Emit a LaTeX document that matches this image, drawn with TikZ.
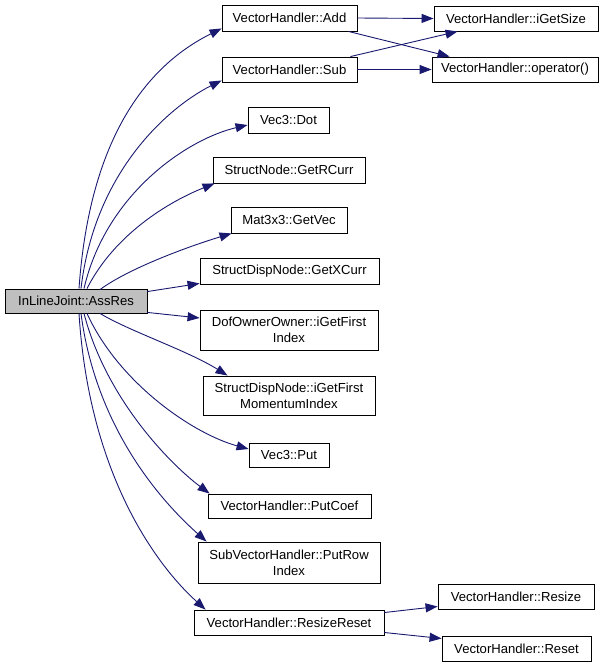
\documentclass[tikz,border=0pt]{standalone}
\usepackage{fontspec}
\setmainfont{Liberation Sans}
\usetikzlibrary{arrows.meta,calc}
\definecolor{edgec}{HTML}{191970}
\definecolor{rootfill}{HTML}{BFBFBF}
\begin{document}
\begin{tikzpicture}[x=1pt,y=-1pt,
  fn/.style={draw=black,line width=0.9pt,rectangle,inner sep=0pt,align=center,
    font=\fontsize{13.1}{16}\selectfont},
  rootbox/.style={fn,fill=rootfill},
  call/.style={draw=edgec,line width=0.9pt,-{Triangle[length=12pt,width=9pt]}}]
\useasboundingbox (0,0) rectangle (605,667);
% root
\node[rootbox,minimum width=142,minimum height=24] (root) at (76,301) {InLineJoint::AssRes};
% column 2
\node[fn,minimum width=135,minimum height=26] (add) at (289.5,18) {VectorHandler::Add};
\node[fn,minimum width=135,minimum height=25] (sub) at (289.5,69.5) {VectorHandler::Sub};
\node[fn,minimum width=81,minimum height=26] (dot) at (288.5,120) {Vec3::Dot};
\node[fn,minimum width=152,minimum height=26] (rcurr) at (289,170) {StructNode::GetRCurr};
\node[fn,minimum width=116,minimum height=26] (getvec) at (289,220) {Mat3x3::GetVec};
\node[fn,minimum width=179,minimum height=26] (xcurr) at (289.5,271) {StructDispNode::GetXCurr};
\node[fn,minimum width=178,minimum height=40] (dof) at (289,330) {DofOwnerOwner::iGetFirst\\Index};
\node[fn,minimum width=172,minimum height=39] (mom) at (289,395.5) {StructDispNode::iGetFirst\\MomentumIndex};
\node[fn,minimum width=80,minimum height=24] (put) at (289,455) {Vec3::Put};
\node[fn,minimum width=163,minimum height=24] (putcoef) at (289.5,506) {VectorHandler::PutCoef};
\node[fn,minimum width=182,minimum height=41] (putrow) at (289,562.5) {SubVectorHandler::PutRow\\Index};
\node[fn,minimum width=190,minimum height=25] (rr) at (289,622.5) {VectorHandler::ResizeReset};
% column 3
\node[fn,minimum width=164,minimum height=25] (size) at (516,18.5) {VectorHandler::iGetSize};
\node[fn,minimum width=166,minimum height=25] (op) at (515,69.5) {VectorHandler::operator()};
\node[fn,minimum width=156,minimum height=25] (resize) at (516,596.5) {VectorHandler::Resize};
\node[fn,minimum width=149,minimum height=25] (reset) at (516.5,648.5) {VectorHandler::Reset};
% edges from root
\draw[call] ($(root.north)+(3,0)$) .. controls +(12,-170) and +(-60,30) .. ($(add.south west)+(0,-3)$);
\draw[call] ($(root.north)+(5,0)$) .. controls +(14,-120) and +(-50,25) .. ($(sub.south west)+(0,-2)$);
\draw[call] ($(root.north)+(8,0)$) .. controls +(22,-95) and +(-60,14) .. ($(dot.west)+(0,5)$);
\draw[call] ($(root.north)+(11,0)$) .. controls +(28,-55) and +(-45,18) .. ($(rcurr.south west)+(2,0)$);
\draw[call] ($(root.north)+(24,1)$) .. controls +(30,-22) and +(-40,12) .. ($(getvec.south west)+(1,0)$);
\draw[call] ($(root.north east)+(0,3)$) -- ($(xcurr.south west)+(0,-1)$);
\draw[call] ($(root.south east)+(0,-1)$) -- ($(dof.west)+(0,-12)$);
\draw[call] ($(root.south)+(24,0)$) .. controls +(30,18) and +(-40,-25) .. ($(mom.north west)+(25,0)$);
\draw[call] ($(root.south)+(11,0)$) .. controls +(32,70) and +(-55,-15) .. ($(put.west)+(0,-6)$);
\draw[call] ($(root.south)+(8,0)$) .. controls +(22,85) and +(-40,-30) .. ($(putcoef.north west)+(2,0)$);
\draw[call] ($(root.south)+(5,0)$) .. controls +(15,115) and +(-45,-40) .. ($(putrow.north west)+(9,0)$);
\draw[call] ($(root.south)+(3,0)$) .. controls +(10,160) and +(-50,-45) .. ($(rr.north west)+(12,0)$);
% second level
\draw[call] (add.east) -- (size.west);
\draw[call] ($(add.south east)+(-9,0)$) -- ($(op.north west)+(18,0)$);
\draw[call] ($(sub.north east)+(-7,0)$) -- ($(size.south west)+(24,0)$);
\draw[call] (sub.east) -- (op.west);
\draw[call] ($(rr.east)+(0,-10)$) -- ($(resize.west)+(0,10)$);
\draw[call] ($(rr.east)+(0,10)$) -- ($(reset.west)+(0,-10)$);
\end{tikzpicture}
\end{document}
